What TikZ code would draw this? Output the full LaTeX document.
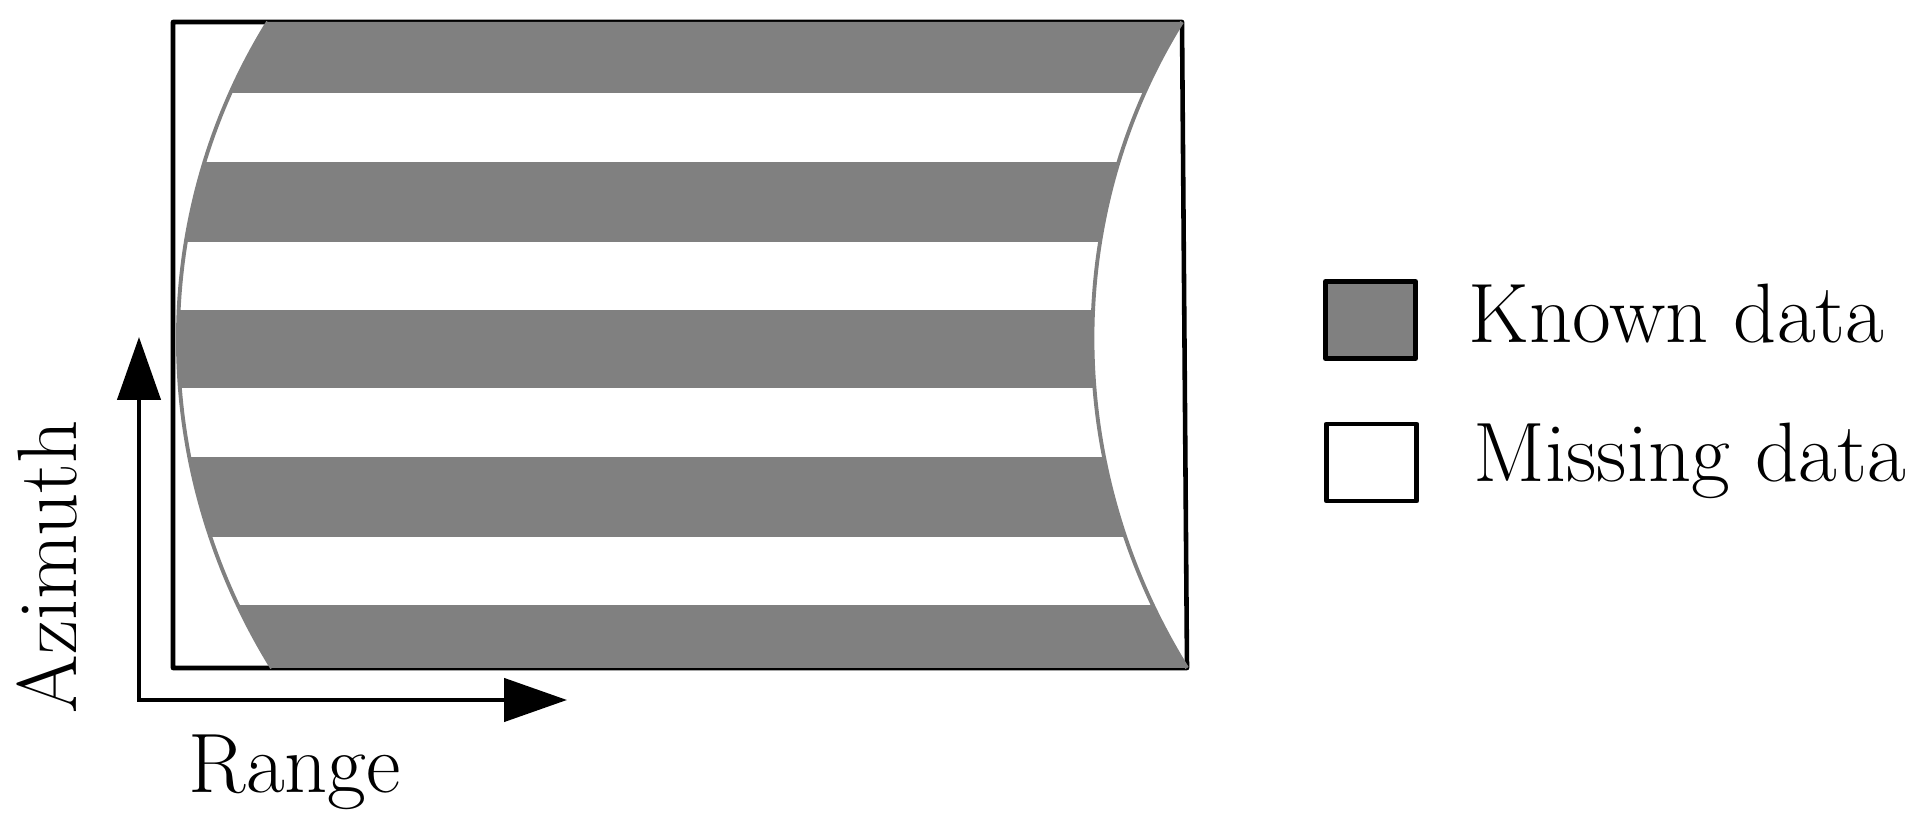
\documentclass[tikz,border=0pt]{standalone}
\usetikzlibrary{positioning, arrows.meta}

\begin{document}
\begin{tikzpicture}[>={Triangle[length=6.3mm,width=4.3mm]},
    frame/.style={draw=black, line width=1.3pt, line join=round},
    known/.style={fill=black!50},
    rim/.style={draw=black!50, line width=1.1pt},
    keybox/.style={draw, line width=1.4pt, line join=round, minimum width=0.9cm, minimum height=0.77cm, inner sep=0pt},
    lbl/.style={inner sep=0pt, font=\fontsize{24}{28}\selectfont},
    axis/.style={line width=1.3pt}]

  \useasboundingbox (0,0) rectangle (19.31,8.32);

  % corners of the data strip
  \coordinate (tl) at (2.68,8.10);
  \coordinate (tr) at (11.82,8.10);
  \coordinate (br) at (11.87,1.64);
  \coordinate (bl) at (2.72,1.64);

  \draw[frame] (1.73,8.10) -- (tr) -- (br) -- (1.73,1.64) -- cycle;

  \begin{scope}
    \clip (tl) -- (tr) .. controls (10.593,6.12) and (10.643,3.62) .. (br)
      -- (bl) .. controls (1.493,3.62) and (1.453,6.12) .. (tl) -- cycle;
    \foreach \hi/\lo in {8.3/7.39, 6.70/5.90, 5.22/4.44, 3.75/2.95, 2.27/1.5}
      \fill[known] (1.5,\hi) rectangle (12.2,\lo);
  \end{scope}

  \draw[rim] (tr) .. controls (10.593,6.12) and (10.643,3.62) .. (br);
  \draw[rim] (bl) .. controls (1.493,3.62) and (1.453,6.12) .. (tl);

  % axes
  \coordinate (azi) at (1.39,4.95);
  \coordinate (rng) at (5.67,1.32);
  \draw[axis, <->] (azi) |- (rng);

  \node[lbl, anchor=base west] (range) at (1.88,0.39) {Range};
  \node[lbl, rotate=90, anchor=base west] (azimuth) at (0.76,1.18) {Azimuth};

  % legend
  \node[keybox, known] (knownbox) at (13.705,5.12) {};
  \node[keybox, fill=white] (missingbox) at (13.715,3.695) {};
  \node[lbl, anchor=base west] (knowntxt) at (14.68,4.89) {Known data};
  \node[lbl, anchor=base west] (missingtxt) at (14.73,3.50) {Missing data};
\end{tikzpicture}
\end{document}
